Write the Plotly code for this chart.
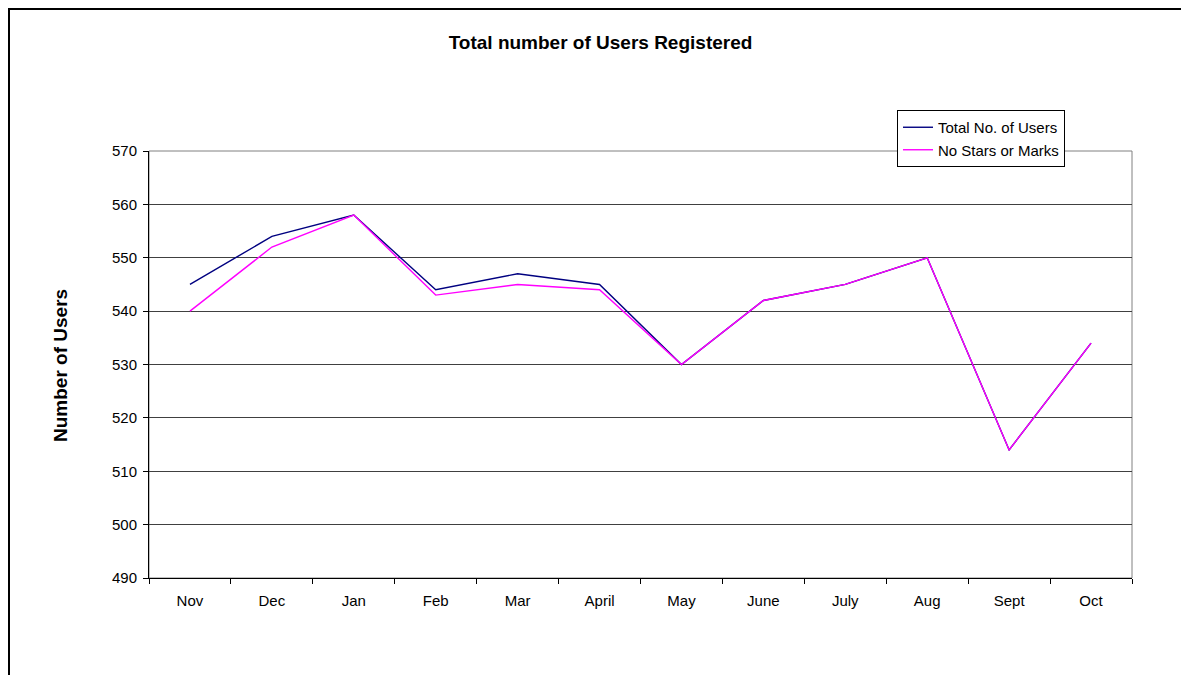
import plotly.graph_objects as go

months = ["Nov", "Dec", "Jan", "Feb", "Mar", "April", "May", "June", "July", "Aug", "Sept", "Oct"]
total_users = [545, 554, 558, 544, 547, 545, 530, 542, 545, 550, 514, 534]
no_stars = [540, 552, 558, 543, 545, 544, 530, 542, 545, 550, 514, 534]

FONT = "Arial, Liberation Sans, sans-serif"
W, H = 1181, 667
L, R, T, B = 141, 57, 143, 97
PW, PH = W - L - R, H - T - B

fig = go.Figure()
fig.add_trace(go.Scatter(x=months, y=total_users, mode="lines", name="Total No. of Users",
                         line=dict(color="#000080", width=1.4)))
fig.add_trace(go.Scatter(x=months, y=no_stars, mode="lines", name="No Stars or Marks",
                         line=dict(color="#FF00FF", width=1.4)))

fig.update_layout(
    width=W, height=H,
    paper_bgcolor="white", plot_bgcolor="white",
    margin=dict(l=L, r=R, t=T, b=B),
    font=dict(family=FONT, size=15, color="black"),
    title=dict(text="<b>Total number of Users Registered</b>", x=592.5 / W,
               xanchor="center", y=1 - 34 / H, yanchor="middle", yref="container",
               font=dict(size=19, family=FONT, color="black")),
    showlegend=True,
    legend=dict(x=(889 - L) / PW, y=(T + PH - 102) / PH, xanchor="left", yanchor="top",
                bgcolor="white", bordercolor="black", borderwidth=1,
                font=dict(size=15, family=FONT), tracegroupgap=0, itemwidth=30),
    xaxis=dict(type="category", tickson="boundaries", ticks="outside", ticklen=5,
               tickcolor="black", showline=True, linecolor="black", linewidth=1,
               showgrid=False, range=[-0.5, 11.5], ticklabelstandoff=9),
    yaxis=dict(range=[490, 570], dtick=10, ticks="outside", ticklen=5, tickcolor="black",
               showline=True, linecolor="black", linewidth=1, showgrid=True,
               gridcolor="#404040", gridwidth=1, zeroline=False, ticklabelstandoff=3),
    shapes=[
        dict(type="rect", xref="paper", yref="paper", x0=0, x1=1, y0=0, y1=1,
             line=dict(color="#808080", width=1), layer="below"),
        dict(type="rect", xref="paper", yref="paper", x0=(1 - L) / PW, x1=(1175 - L) / PW,
             y0=(T + PH - 720) / PH, y1=(T + PH - 1) / PH, line=dict(color="black", width=2)),
    ],
    annotations=[
        dict(text="<b>Number of Users</b>", x=(52 - L) / PW, y=(T + PH - 358) / PH,
             xref="paper", yref="paper", textangle=-90, showarrow=False,
             font=dict(size=19, family=FONT, color="black"), xanchor="center", yanchor="middle"),
    ],
)

fig.write_html("out.html")
